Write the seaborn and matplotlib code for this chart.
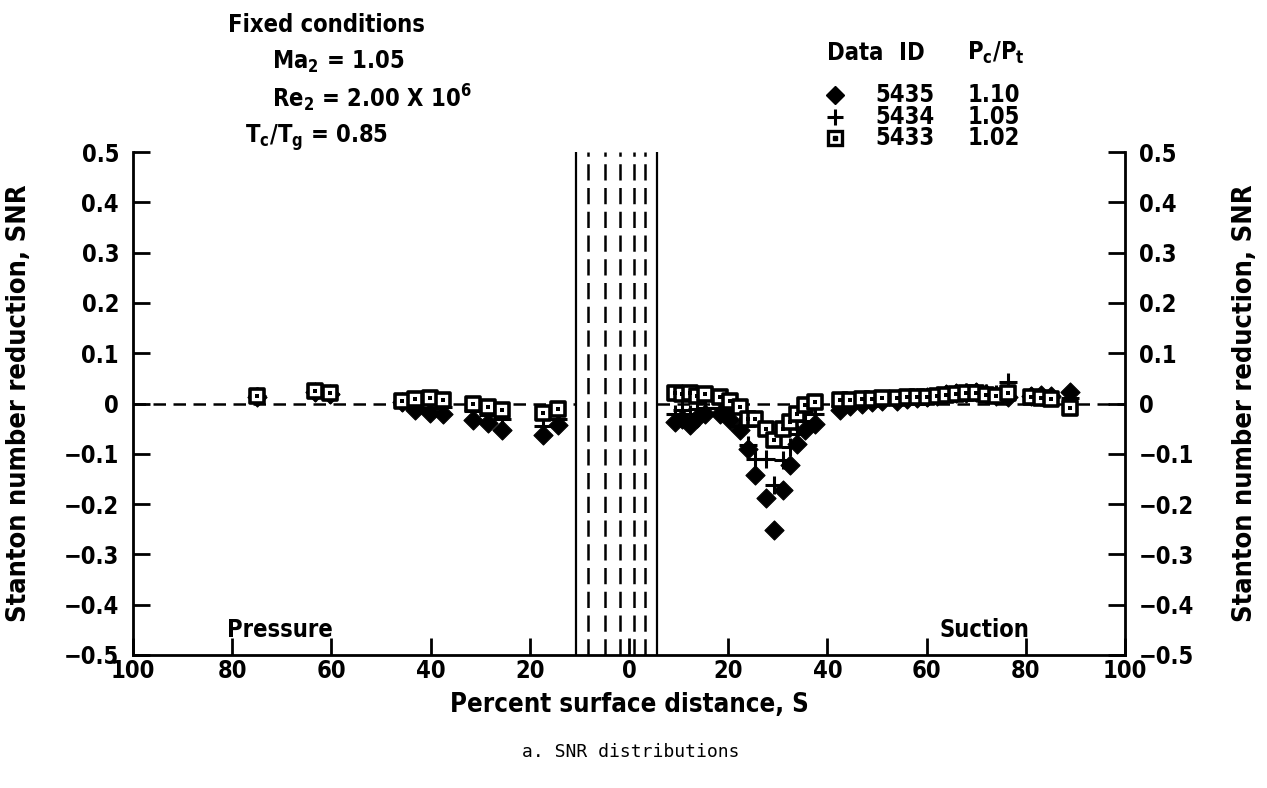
import numpy as np
import pandas as pd
import matplotlib
matplotlib.use("Agg")
import matplotlib.pyplot as plt
import seaborn as sns
from matplotlib.ticker import FuncFormatter

# Data: surface position, pressure side stored as negative values
s_pressure = [-75.0, -63.3, -60.3, -45.8, -43.1, -40.1, -37.5, -31.5, -28.4, -25.6, -17.3, -14.3]
snr_5435_p = [0.013, 0.022, 0.018, 0.002, -0.013, -0.019, -0.020, -0.033, -0.039, -0.053, -0.063, -0.043]
snr_5434_p = [0.014, 0.023, 0.019, 0.003, -0.003, -0.008, -0.006, -0.015, -0.022, -0.030, -0.045, -0.030]
snr_5433_p = [0.015, 0.024, 0.020, 0.005, 0.009, 0.011, 0.007, 0.000, -0.007, -0.013, -0.019, -0.011]

s_suction = [9.3, 10.7, 12.3, 13.7, 15.3, 18.3, 20.4, 22.4, 24.0, 25.4, 27.6, 29.2, 31.0, 32.5,
             33.9, 35.5, 37.5, 42.5, 44.5, 47.0, 49.0, 51.0, 54.0, 56.0, 58.0, 60.0, 62.0, 64.0,
             66.0, 68.0, 70.0, 72.0, 74.0, 76.5, 81.0, 83.0, 85.0, 89.0]
snr_5435_s = [-0.037, -0.030, -0.043, -0.028, -0.020, -0.020, -0.033, -0.053, -0.090, -0.142,
              -0.188, -0.252, -0.172, -0.122, -0.080, -0.053, -0.040, -0.013, -0.005, 0.000,
              0.003, 0.004, 0.005, 0.008, 0.010, 0.012, 0.015, 0.018, 0.020, 0.020, 0.022,
              0.018, 0.015, 0.012, 0.015, 0.016, 0.015, 0.022]
snr_5434_s = [-0.020, -0.012, -0.020, -0.010, -0.008, -0.008, -0.015, -0.045, -0.083, -0.110,
              -0.110, -0.162, -0.112, -0.086, -0.060, -0.035, -0.020, -0.005, 0.000, 0.003,
              0.005, 0.006, 0.007, 0.010, 0.012, 0.013, 0.016, 0.018, 0.020, 0.022, 0.023,
              0.020, 0.018, 0.043, 0.014, 0.013, 0.012, 0.010]
snr_5433_s = [0.020, 0.018, 0.020, 0.015, 0.018, 0.013, 0.005, -0.006, -0.030, -0.030,
              -0.050, -0.073, -0.050, -0.037, -0.020, -0.003, 0.003, 0.007, 0.006, 0.008,
              0.009, 0.010, 0.010, 0.012, 0.013, 0.012, 0.014, 0.016, 0.018, 0.020, 0.020,
              0.017, 0.015, 0.020, 0.012, 0.010, 0.008, -0.009]

run_ids = ["5435", "5434", "5433"]
pc_pt = ["1.10", "1.05", "1.02"]

# leading edge region: instrumentation lines
band_solid = [-10.6, 5.6]
band_dashed = [-8.3, -4.8, -1.9, 1.0, 3.3]

rows = []
for rid, sp, ss in zip(run_ids, [snr_5435_p, snr_5434_p, snr_5433_p],
                       [snr_5435_s, snr_5434_s, snr_5433_s]):
    for x, y in zip(s_pressure + s_suction, sp + ss):
        rows.append((x, y, rid))
df = pd.DataFrame(rows, columns=["S", "SNR", "ID"])

sns.set_style("ticks")
plt.rcParams["font.family"] = ["DejaVu Sans"]
plt.rcParams["font.stretch"] = "condensed"
plt.rcParams["font.weight"] = "bold"
plt.rcParams["axes.labelweight"] = "bold"
plt.rcParams["mathtext.default"] = "regular"
for k in ["text.color", "axes.labelcolor", "xtick.color", "ytick.color", "axes.edgecolor"]:
    plt.rcParams[k] = "black"

W, H = 1267, 788
fig = plt.figure(figsize=(W / 100, H / 100), dpi=100)
ax = fig.add_axes([133 / W, 1 - 655 / H, (1125 - 133) / W, (655 - 152) / H])

# zero reference, broken by the band
ax.hlines(0, -100, band_solid[0], colors="black", linestyles=(0, (5, 3)), lw=1.8)
ax.hlines(0, band_solid[1], 100, colors="black", linestyles=(0, (5, 3)), lw=1.8)
for x in band_solid:
    ax.axvline(x, color="black", lw=1.6)
for x in band_dashed:
    ax.axvline(x, color="black", lw=1.8, ls=(0, (6.5, 3)))

sns.scatterplot(data=df[df.ID == "5435"], x="S", y="SNR", marker="D", s=95,
                color="black", edgecolor="black", ax=ax, zorder=3)
sns.scatterplot(data=df[df.ID == "5434"], x="S", y="SNR", marker="+", s=150,
                color="black", linewidth=2.2, ax=ax, zorder=4)
sns.scatterplot(data=df[df.ID == "5433"], x="S", y="SNR", marker="s", s=110,
                facecolor="white", edgecolor="black", linewidth=2.6, ax=ax, zorder=5)
sns.scatterplot(data=df[df.ID == "5433"], x="S", y="SNR", marker="s", s=10,
                color="black", edgecolor="black", linewidth=0, ax=ax, zorder=6)

ax.set_xlim(-100, 100)
ax.set_ylim(-0.5, 0.5)
ax.set_xticks(np.arange(-100, 101, 20))
ax.xaxis.set_major_formatter(FuncFormatter(lambda v, p: f"{abs(v):.0f}"))
ax.set_yticks(np.arange(-0.5, 0.51, 0.1))
ax.yaxis.set_major_formatter(FuncFormatter(lambda v, p: "0" if abs(v) < 1e-9 else f"{v:.1f}".replace("-", "\u2212")))

ax2 = ax.twinx()
ax2.set_ylim(-0.5, 0.5)
ax2.set_yticks([])
ax2.spines["top"].set_visible(False)
ax2.set_ylabel("Stanton number reduction, SNR", fontsize=19.5)
ax2.yaxis.set_label_coords(1.108, 0.5)

ax.tick_params(axis="both", direction="in", length=12, width=2, labelsize=17)
ax.tick_params(axis="y", left=True, right=True, labelleft=True, labelright=True, pad=10)
ax.tick_params(axis="x", pad=3)
ax.spines["top"].set_visible(False)
for side in ["left", "right", "bottom"]:
    ax.spines[side].set_linewidth(2)
    ax.spines[side].set_visible(True)

ax.set_xlabel("Percent surface distance, S", fontsize=18.5)
ax.xaxis.set_label_coords(0.5, -0.074)
ax.set_ylabel("Stanton number reduction, SNR", fontsize=19.5)
ax.yaxis.set_label_coords(-0.102, 0.5)

ax.text(-81, -0.45, "Pressure", fontsize=17, va="center", ha="left")
ax.text(62.7, -0.45, "Suction", fontsize=17, va="center", ha="left")

def ftext(px, py, s, **kw):
    fig.text(px / W, 1 - py / H, s, fontsize=kw.pop("fontsize", 17), **kw)

ftext(228, 25, "Fixed conditions", va="center")
ftext(272, 62, r"Ma$_2$ = 1.05", va="center")
ftext(272, 98, r"Re$_2$ = 2.00 X 10$^6$", va="center")
ftext(245, 138, r"T$_c$/T$_g$ = 0.85", va="center")

ftext(855, 53, "Data", va="center", ha="center")
ftext(912, 53, "ID", va="center", ha="center")
ftext(996, 53, r"P$_c$/P$_t$", va="center", ha="center")
marker_kw = [dict(marker="D", ms=9, color="black", mfc="black"),
             dict(marker="+", ms=12, mew=2.2, color="black"),
             dict(marker="s", ms=10, mew=2.4, color="black", mfc="white")]
for i, (rid, pr) in enumerate(zip(run_ids, pc_pt)):
    py = 95 + i * 21.5
    fig.lines.append(plt.Line2D([835 / W], [1 - py / H], transform=fig.transFigure, **marker_kw[i]))
    ftext(905, py, rid, va="center", ha="center")
    ftext(994, py, pr, va="center", ha="center")
fig.lines.append(plt.Line2D([835 / W], [1 - (95 + 43) / H], transform=fig.transFigure,
                            marker="s", ms=2.5, color="black"))

ftext(631, 752, "a. SNR distributions", fontsize=13, fontweight="normal",
      family="DejaVu Sans Mono", va="center", ha="center")

fig.savefig("out.png", dpi=100)
